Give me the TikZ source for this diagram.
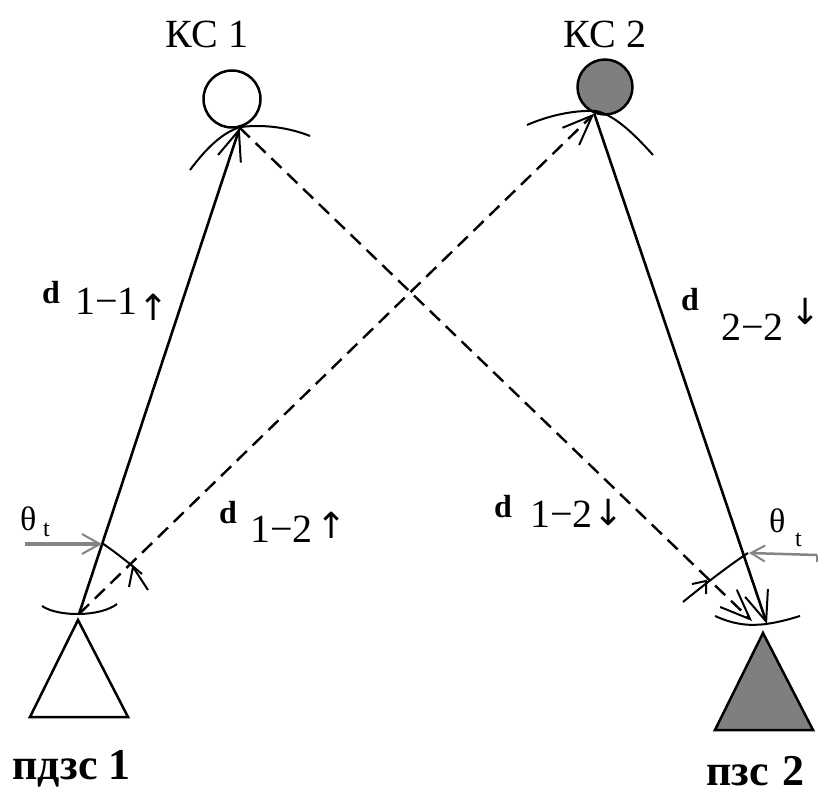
\documentclass[tikz,border=0pt]{standalone}
\usepackage{fontspec}
\setmainfont{Liberation Serif}
\newfontfamily\arrowfont{DejaVu Sans}
\usetikzlibrary{arrows.meta}
\definecolor{fillgray}{HTML}{7F7F7F}
\definecolor{arrowgray}{HTML}{858585}
\begin{document}
\begin{tikzpicture}[x=1pt,y=-1pt,
  link/.style={line width=2.6pt,black},
  dlink/.style={line width=2.4pt,black,dash pattern=on 14pt off 8pt},
  barb/.style={-{Straight Barb[length=30pt,width=24pt,line width=2pt]}},
  beam/.style={line width=2pt,black},
  station/.style={circle,draw,line width=2.5pt,inner sep=0pt},
  lbl/.style={inner sep=0pt,anchor=base west},
  acen/.style={inner sep=0pt,anchor=center},
  big/.style={font=\fontsize{40}{44}\selectfont},
  dfont/.style={font=\fontsize{32}{34}\selectfont\bfseries},
  afont/.style={font=\fontsize{36}{38}\arrowfont},
  tfont/.style={font=\fontsize{24}{26}\selectfont},
  thfont/.style={font=\fontsize{34}{36}\selectfont},
  gfont/.style={font=\fontsize{44}{48}\selectfont\bfseries}]
\useasboundingbox (0,0) rectangle (827,794);
\fill[white] (0,0) rectangle (827,794);

% stations in space
\node[station,fill=white,minimum size=57pt] (kc1) at (232,99) {};
\node[station,fill=fillgray,minimum size=55pt] (kc2) at (605,87) {};
\node[big,inner sep=0pt] (kc1lbl) at (207,34) {КС 1};
\node[big,inner sep=0pt] (kc2lbl) at (605,34) {КС 2};

% ground stations
\draw[line width=2.5pt] (78,620) -- (30,717) -- (128,717) -- cycle;
\draw[line width=2.5pt,fill=fillgray] (763,633) -- (715,730) -- (813,730) -- cycle;
\node[lbl,gfont] (pdzs) at (12,779) {пдзс 1};
\node[lbl,gfont] (pzs) at (706,785) {пзс\hspace{14pt}2};

% link end points
\coordinate (K1) at (kc1.-75);
\coordinate (K2) at (kc2.-112);
\coordinate (A1) at (79,614);
\coordinate (A2) at (767,624);
\coordinate (E2) at (752,621);

% links
\draw[link,barb] (A1) -- (K1);
\draw[dlink,barb] (A1) -- (K2);
\draw[dlink,barb] (K1) -- (E2);
\draw[link,barb] (K2) -- (A2);

% beam arcs
\draw[beam] (42,606) .. controls (58,617) and (100,617) .. (117,604);
\draw[beam] (190,170) .. controls (205,150) and (222,132) .. (241,127) .. controls (265,124) and (290,128) .. (310,136);
\draw[beam] (527,125) .. controls (550,115) and (575,110) .. (596,111) .. controls (615,115) and (635,135) .. (653,155);
\draw[beam] (715,616) .. controls (735,625) and (750,626) .. (766,624) .. controls (780,622) and (790,619) .. (800,616);

% angle arcs
\draw[beam] (102,543) .. controls (115,552) and (128,562) .. (142,574);
\draw[beam] (129,587) -- (133,567) -- (148,590);
\draw[beam] (748,553) .. controls (728,566) and (700,588) .. (683,602);
\draw[beam] (692,584) -- (706,581) -- (706,594);

% theta pointers
\coordinate (thL0) at (25,544);
\coordinate (thL1) at (102,544);
\coordinate (thR0) at (817,555);
\coordinate (thR1) at (749,553);
\draw[line width=4pt,arrowgray,-{Straight Barb[length=18pt,width=20pt,line width=2pt]}] (thL0) -- (thL1);
\draw[line width=2.5pt,arrowgray,-{Straight Barb[length=14pt,width=16pt,line width=2pt]}] (thR0) -- (thR1);
\draw[line width=2pt,arrowgray] (thR0) -- ++(0,7);

\node[lbl,thfont] (thL) at (20,530) {θ};
\node[lbl,tfont] (thLt) at (43,536) {t};
\node[lbl,thfont] (thR) at (769,532) {θ};
\node[lbl,tfont] (thRt) at (795,546) {t};

% distance labels
\node[lbl,dfont] (d11) at (42,303) {d};
\node[lbl,big] (d11n) at (75,315) {1−1};
\node[acen,afont] (d11a) at (154,307) {↑};

\node[lbl,dfont] (d12u) at (219,523) {d};
\node[lbl,big] (d12un) at (250,542) {1−2};
\node[acen,afont] (d12ua) at (332,525) {↑};

\node[lbl,dfont] (d12d) at (494,517) {d};
\node[lbl,big] (d12dn) at (530,527) {1−2};
\node[acen,afont] (d12da) at (609,512) {↓};

\node[lbl,dfont] (d22) at (681,310) {d};
\node[lbl,big] (d22n) at (721,340) {2−2};
\node[acen,afont] (d22a) at (806,311) {↓};
\end{tikzpicture}
\end{document}
